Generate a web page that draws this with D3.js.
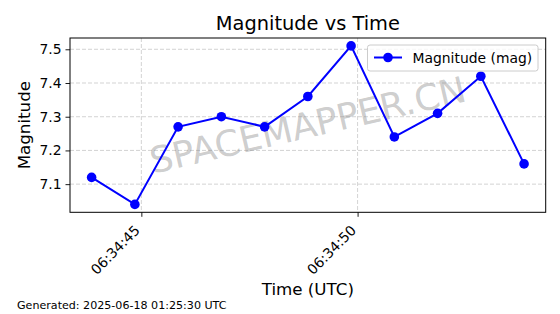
<!DOCTYPE html>
<html><head><meta charset="utf-8">
<script src="https://cdn.jsdelivr.net/npm/d3@7"></script>
<style>
html,body{margin:0;padding:0;background:#fff;}
svg text{font-family:"DejaVu Sans",sans-serif;}
</style></head>
<body><svg id="c" width="560" height="314"></svg>
<script>
const times = ["2025-06-18T06:34:43.850Z","2025-06-18T06:34:44.850Z","2025-06-18T06:34:45.850Z","2025-06-18T06:34:46.850Z","2025-06-18T06:34:47.850Z","2025-06-18T06:34:48.850Z","2025-06-18T06:34:49.850Z","2025-06-18T06:34:50.850Z","2025-06-18T06:34:51.850Z","2025-06-18T06:34:52.850Z","2025-06-18T06:34:53.850Z"];
const magnitudes = [7.12, 7.04, 7.27, 7.30, 7.27, 7.36, 7.51, 7.24, 7.31, 7.42, 7.16];
const yTicks = [7.1, 7.2, 7.3, 7.4, 7.5];
const xTickTimes = ["2025-06-18T06:34:45.000Z","2025-06-18T06:34:50.000Z"];
const titleText = "Magnitude vs Time";
const xLabel = "Time (UTC)";
const yLabel = "Magnitude";
const seriesName = "Magnitude (mag)";
const watermark = "SPACEMAPPER.CN";
const footer = "Generated: 2025-06-18 01:25:30 UTC";

const svg = d3.select("#c");
const L = 70, T = 38, R = 545.7, B = 212.3;
const data = times.map((t,i)=>({t:new Date(t), v:magnitudes[i]}));
const t0 = d3.min(data,d=>d.t), t1 = d3.max(data,d=>d.t);
const span = t1 - t0;
const x = d3.scaleUtc().domain([new Date(+t0 - span*0.05), new Date(+t1 + span*0.05)]).range([L,R]);
const vmin = d3.min(magnitudes), vmax = d3.max(magnitudes), vr = vmax - vmin;
const y = d3.scaleLinear().domain([vmin - vr*0.05, vmax + vr*0.05]).range([B,T]);
const xt = xTickTimes.map(s=>new Date(s));

// grid
const g = svg.append("g");
g.selectAll(".gy").data(yTicks).join("line")
  .attr("x1",L).attr("x2",R).attr("y1",d=>y(d)).attr("y2",d=>y(d))
  .attr("stroke","#b0b0b0").attr("stroke-opacity",0.7).attr("stroke-width",0.8).attr("stroke-dasharray","4,2");
g.selectAll(".gx").data(xt).join("line")
  .attr("y1",T).attr("y2",B).attr("x1",d=>x(d)).attr("x2",d=>x(d))
  .attr("stroke","#b0b0b0").attr("stroke-opacity",0.7).attr("stroke-width",0.8).attr("stroke-dasharray","4,2");

// watermark
svg.append("text").attr("x",(L+R)/2).attr("y",(T+B)/2)
  .attr("transform",`rotate(-13,${(L+R)/2},${(T+B)/2})`)
  .attr("text-anchor","middle").attr("dominant-baseline","central")
  .attr("font-size",36).attr("fill","#808080").attr("fill-opacity",0.4)
  .text(watermark);

// line + markers
svg.append("path").datum(data)
  .attr("d", d3.line().x(d=>x(d.t)).y(d=>y(d.v)))
  .attr("fill","none").attr("stroke","#0000ff").attr("stroke-width",2);
svg.selectAll(".pt").data(data).join("circle")
  .attr("cx",d=>x(d.t)).attr("cy",d=>y(d.v)).attr("r",4.8).attr("fill","#0000ff");

// axes
const yAxis = d3.axisLeft(y).tickValues(yTicks).tickFormat(d3.format(".1f")).tickSize(4.5).tickPadding(4);
const ya = svg.append("g").attr("transform",`translate(${L},0)`).call(yAxis);
ya.select(".domain").remove();
ya.selectAll("text").attr("font-size",13.9).attr("fill","#000").attr("font-family","DejaVu Sans");
ya.selectAll("line").attr("stroke","#000").attr("stroke-width",0.9);

const xAxis = d3.axisBottom(x).tickValues(xt).tickFormat(d3.utcFormat("%H:%M:%S")).tickSize(4.5).tickPadding(0);
const xa = svg.append("g").attr("transform",`translate(0,${B})`).call(xAxis);
xa.select(".domain").remove();
xa.selectAll("line").attr("stroke","#000").attr("stroke-width",0.9);
xa.selectAll("text").attr("font-size",13.9).attr("fill","#000").attr("font-family","DejaVu Sans")
  .attr("text-anchor","end").attr("dy",null).attr("y",null)
  .attr("transform","translate(-1,19) rotate(-45)");

// frame
svg.append("rect").attr("x",L).attr("y",T).attr("width",R-L).attr("height",B-T)
  .attr("fill","none").attr("stroke","#000").attr("stroke-width",1);

// legend
const lg = svg.append("g");
lg.append("rect").attr("x",367.5).attr("y",45).attr("width",170.5).attr("height",26).attr("rx",2.5)
  .attr("fill","#fff").attr("fill-opacity",0.8).attr("stroke","#cccccc");
lg.append("line").attr("x1",374).attr("x2",402).attr("y1",57.5).attr("y2",57.5).attr("stroke","#0000ff").attr("stroke-width",2);
lg.append("circle").attr("cx",388).attr("cy",57.5).attr("r",4.8).attr("fill","#0000ff");
lg.append("text").attr("x",412.5).attr("y",62.5).attr("font-size",13.9).attr("fill","#000").text(seriesName);

// titles
svg.append("text").attr("x",(L+R)/2).attr("y",30).attr("text-anchor","middle").attr("font-size",19.4).attr("fill","#000").text(titleText);
svg.append("text").attr("x",(L+R)/2).attr("y",295).attr("text-anchor","middle").attr("font-size",16.7).attr("fill","#000").text(xLabel);
svg.append("text").attr("transform",`translate(30,${(T+B)/2}) rotate(-90)`).attr("text-anchor","middle").attr("font-size",16.7).attr("fill","#000").text(yLabel);
svg.append("text").attr("x",17).attr("y",308.5).attr("font-size",11.1).attr("fill","#000").text(footer);
</script></body></html>
